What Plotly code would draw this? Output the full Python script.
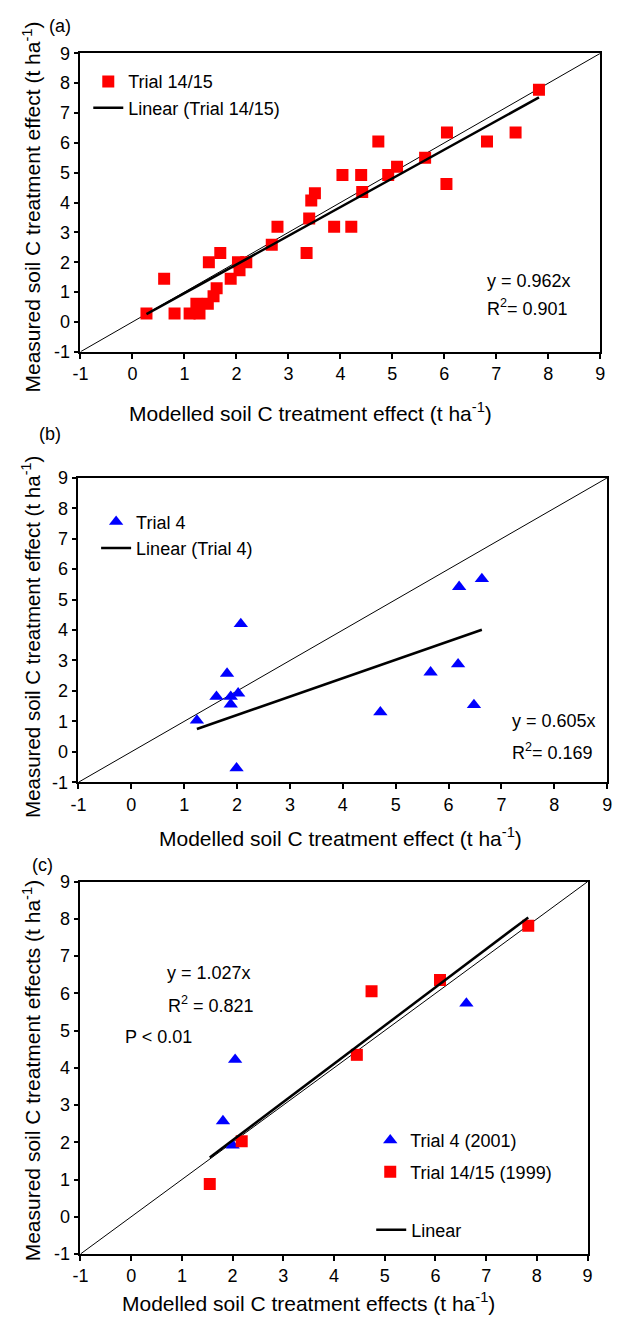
import plotly.graph_objects as go

# ---------------- data ----------------
# Panel (a): Trial 14/15
a_x = [0.27, 0.61, 0.81, 1.10, 1.23, 1.29, 1.45, 1.47, 1.56, 1.62, 1.69, 1.89,
       2.06, 2.03, 2.19, 2.68, 2.79, 3.35, 3.40, 3.44, 3.51, 3.88, 4.04, 4.21,
       4.40, 4.42, 4.73, 4.92, 5.09, 5.63, 6.05, 6.04, 6.82, 7.37, 7.82]
a_y = [0.28, 1.45, 0.28, 0.28, 0.61, 0.28, 0.61, 2.00, 0.86, 1.13, 2.31, 1.45,
       1.73, 2.00, 2.00, 2.59, 3.19, 2.31, 3.47, 4.07, 4.31, 3.19, 4.92, 3.19,
       4.92, 4.35, 6.05, 4.92, 5.20, 5.50, 6.35, 4.62, 6.05, 6.35, 7.78]
a_slope = 0.962

# Panel (b): Trial 4
b_x = [1.24, 1.61, 1.81, 1.88, 1.88, 2.02, 2.07, 1.99, 4.71, 5.66, 6.18, 6.20, 6.63, 6.48]
b_y = [1.03, 1.81, 2.57, 1.81, 1.56, 1.92, 4.20, -0.54, 1.30, 2.61, 2.88, 5.42, 5.68, 1.54]
b_slope = 0.605

# Panel (c): Trial 4 (2001) and Trial 14/15 (1999)
c4_x = [1.81, 2.00, 2.05, 6.61]
c4_y = [2.57, 1.92, 4.22, 5.73]
c14_x = [1.55, 2.18, 4.45, 4.74, 6.09, 7.83]
c14_y = [0.88, 2.03, 4.35, 6.06, 6.36, 7.82]
c_slope = 1.027

one_to_one = [-1, 9]
tick_vals = list(range(-1, 10))
tick_text = [str(v) for v in tick_vals]

# ---------------- figure ----------------
W, H = 620, 1331
FONT = "Liberation Sans, Arial, sans-serif"
RED = "#ff0000"
BLUE = "#0000ff"


def px(x):
    return x / W


def py(y):
    return 1 - y / H


fig = go.Figure()


def fit_line(xs, slope):
    lo, hi = min(xs), max(xs)
    return [lo, hi], [slope * lo, slope * hi]


# (a)
fig.add_trace(go.Scatter(x=one_to_one, y=one_to_one, mode="lines",
                         line=dict(color="black", width=1), showlegend=False,
                         xaxis="x", yaxis="y"))
fig.add_trace(go.Scatter(x=a_x, y=a_y, mode="markers", name="Trial 14/15",
                         marker=dict(symbol="square", size=12, color=RED),
                         xaxis="x", yaxis="y", legend="legend", legendgroup="a1"))
fx, fy = fit_line(a_x, a_slope)
fig.add_trace(go.Scatter(x=fx, y=fy, mode="lines", name="Linear (Trial 14/15)",
                         line=dict(color="black", width=2.5),
                         xaxis="x", yaxis="y", legend="legend", legendgroup="a2"))

# (b)
fig.add_trace(go.Scatter(x=one_to_one, y=one_to_one, mode="lines",
                         line=dict(color="black", width=1), showlegend=False,
                         xaxis="x2", yaxis="y2"))
fig.add_trace(go.Scatter(x=b_x, y=b_y, mode="markers", name="Trial 4",
                         marker=dict(symbol="triangle-up", size=12.5, color=BLUE),
                         xaxis="x2", yaxis="y2", legend="legend2", legendgroup="b1"))
fx, fy = fit_line(b_x, b_slope)
fig.add_trace(go.Scatter(x=fx, y=fy, mode="lines", name="Linear (Trial 4)",
                         line=dict(color="black", width=2.5),
                         xaxis="x2", yaxis="y2", legend="legend2", legendgroup="b2"))

# (c)
fig.add_trace(go.Scatter(x=one_to_one, y=one_to_one, mode="lines",
                         line=dict(color="black", width=1), showlegend=False,
                         xaxis="x3", yaxis="y3"))
fig.add_trace(go.Scatter(x=c4_x, y=c4_y, mode="markers", name="Trial 4 (2001)",
                         marker=dict(symbol="triangle-up", size=12.5, color=BLUE),
                         xaxis="x3", yaxis="y3", legend="legend3", legendgroup="c1"))
fig.add_trace(go.Scatter(x=c14_x, y=c14_y, mode="markers", name="Trial 14/15 (1999)",
                         marker=dict(symbol="square", size=12, color=RED),
                         xaxis="x3", yaxis="y3", legend="legend3", legendgroup="c2"))
fx, fy = fit_line(c14_x + c4_x, c_slope)
fig.add_trace(go.Scatter(x=fx, y=fy, mode="lines", name="Linear",
                         line=dict(color="black", width=2.5),
                         xaxis="x3", yaxis="y3", legend="legend4"))


def xaxis(dom, anchor):
    return dict(domain=[px(dom[0]), px(dom[1])], anchor=anchor, range=[-1, 9],
                tickvals=tick_vals, ticktext=tick_text, ticks="outside",
                ticklen=5, tickwidth=1.5, tickcolor="black",
                showline=True, linecolor="black", linewidth=1.5, mirror=True,
                showgrid=False, zeroline=False,
                tickfont=dict(family=FONT, size=18, color="black"))


def yaxis(dom, anchor):
    return dict(domain=[py(dom[1]), py(dom[0])], anchor=anchor, range=[-1, 9],
                tickvals=tick_vals, ticktext=tick_text, ticks="outside",
                ticklen=5, tickwidth=1.5, tickcolor="black",
                showline=True, linecolor="black", linewidth=1.5, mirror=True,
                showgrid=False, zeroline=False,
                tickfont=dict(family=FONT, size=18, color="black"))


def legend(x, y, gap):
    return dict(x=px(x), y=py(y), xanchor="left", yanchor="top",
                bgcolor="rgba(0,0,0,0)", borderwidth=0,
                font=dict(family=FONT, size=18, color="black"),
                traceorder="grouped", tracegroupgap=gap, itemwidth=30)


fig.update_layout(
    width=W, height=H, margin=dict(l=0, r=0, t=0, b=0),
    paper_bgcolor="white", plot_bgcolor="white",
    font=dict(family=FONT, size=18, color="black"),
    xaxis=xaxis((74, 605), "y"), yaxis=yaxis((44, 347), "x"),
    xaxis2=xaxis((72, 612), "y2"), yaxis2=yaxis((475, 784), "x2"),
    xaxis3=xaxis((74, 592), "y3"), yaxis3=yaxis((885, 1263), "x3"),
    legend=legend(82, 54, 0),
    legend2=legend(90, 501, 0),
    legend3=legend(370, 1129, 5),
    legend4=legend(371, 1220, 0),
)

ann = []


def text(x, y, s, xanchor="left", angle=0, size=18):
    ann.append(dict(x=px(x), y=py(y), xref="paper", yref="paper", text=s,
                    showarrow=False, xanchor=xanchor, yanchor="middle",
                    textangle=angle, font=dict(family=FONT, size=size, color="black")))


# panel labels
text(40, 16, "(a)")
text(30, 430, "(b)")
text(22, 868, "(c)")
# equations
text(487, 275, "y = 0.962x")
text(487, 302, "R<sup>2</sup>= 0.901")
text(513, 722, "y = 0.605x")
text(513, 753, "R<sup>2</sup>= 0.169")
text(160, 978, "y = 1.027x")
text(161, 1010, "R<sup>2</sup> = 0.821")
text(117, 1043, "P < 0.01")
# axis titles
text(309, 408, "Modelled soil C treatment effect (t ha<sup>-1</sup>)", "center", size=21)
text(340, 840, "Modelled soil C treatment effect (t ha<sup>-1</sup>)", "center", size=21)
text(307, 1312, "Modelled soil C treatment effects (t ha<sup>-1</sup>)", "center", size=21)
text(24, 200, "Measured soil C treatment effect (t ha<sup>-1</sup>)", "center", -90, 21)
text(24, 636, "Measured soil C treatment effect (t ha<sup>-1</sup>)", "center", -90, 20.5)
text(24, 1076, "Measured soil C treatment effects (t ha<sup>-1</sup>)", "center", -90, 21)
fig.update_layout(annotations=ann)

fig.write_html("out.html")
